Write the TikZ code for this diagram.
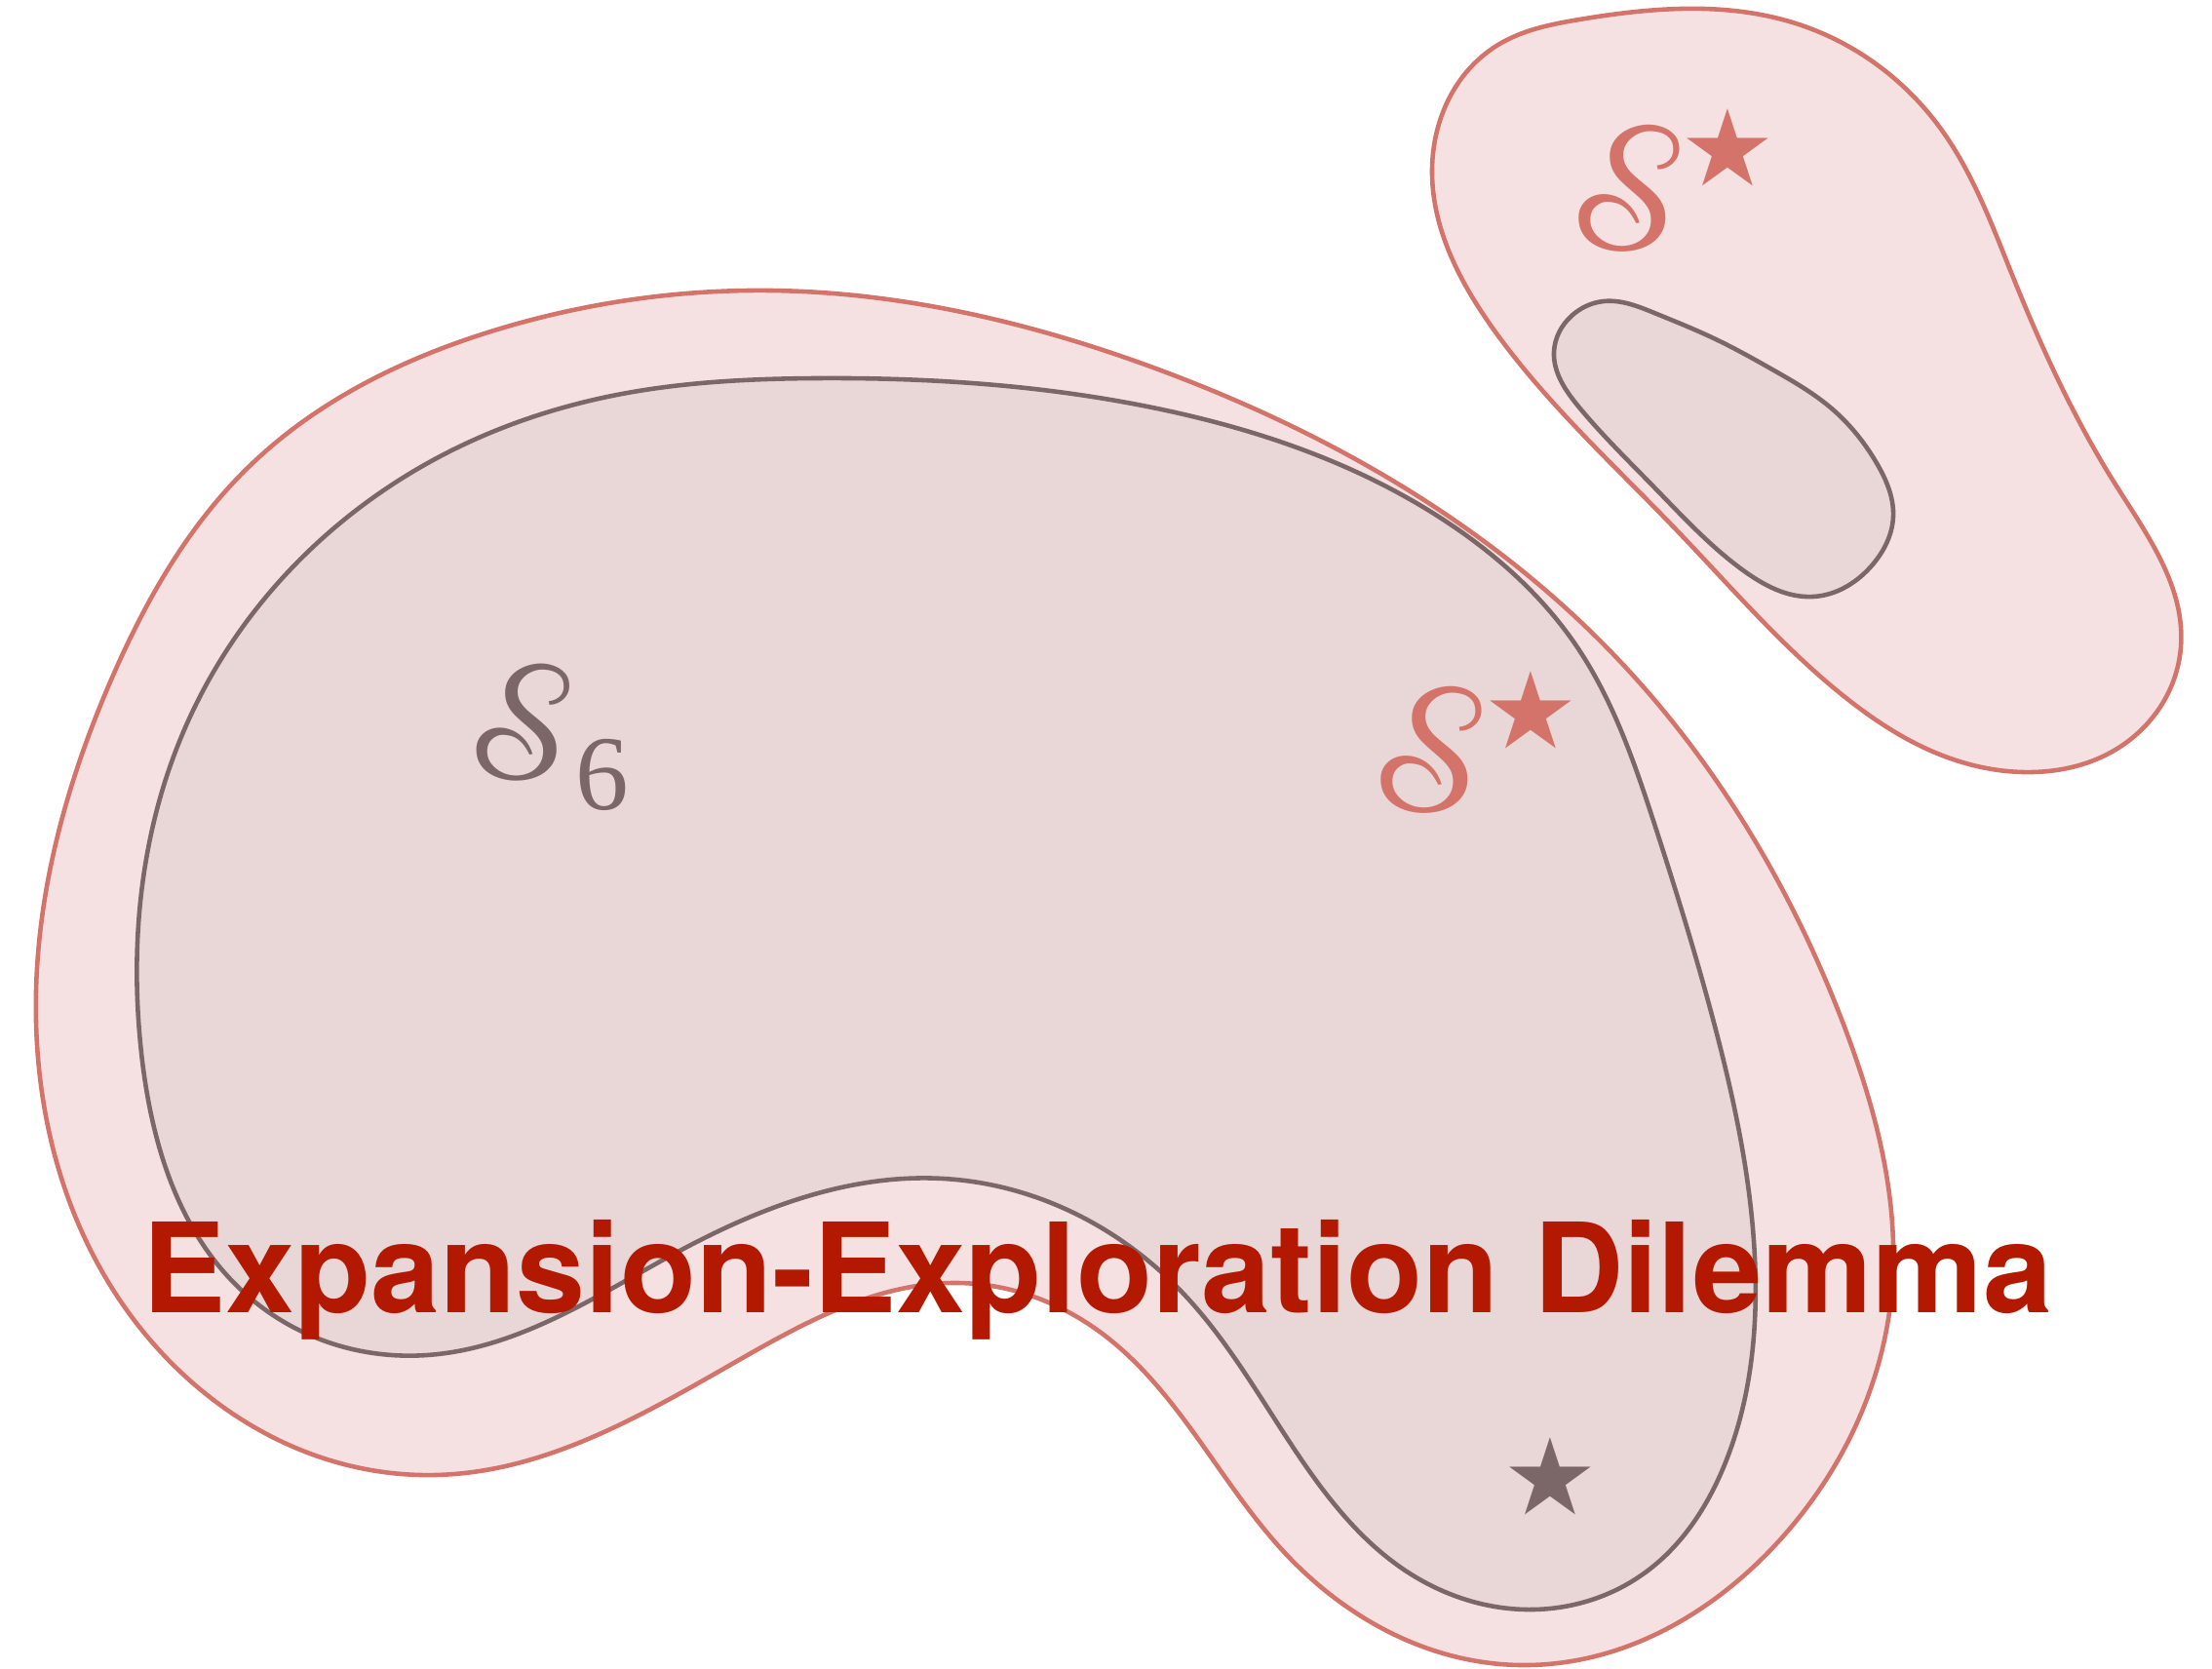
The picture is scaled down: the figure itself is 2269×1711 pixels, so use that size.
\documentclass[tikz,border=0pt]{standalone}
\usepackage{mathrsfs}
\usepackage{fontspec}
\usetikzlibrary{hobby}
\newfontfamily\titlefont{TeX Gyre Heros}
\newfontfamily\symfont{DejaVu Sans}
\newfontfamily\digitfont{Liberation Serif}
\IfFontExistsTF{XITS Math}
  {\newfontfamily\scrfont{XITS Math}\newcommand\scrS{{\scrfont\symbol{"1D4AE}}}}
  {\IfFontExistsTF{STIX Two Math}
    {\newfontfamily\scrfont[StylisticSet=1]{STIX Two Math}\newcommand\scrS{{\scrfont\symbol{"1D4AE}}}}
    {\newcommand\scrS{$\mathscr{S}$}}}
\definecolor{outfill}{HTML}{F5E1E1}
\definecolor{infill}{HTML}{E9D6D6}
\definecolor{outline}{HTML}{D4736A}
\definecolor{inline}{HTML}{7B6767}
\definecolor{titlered}{HTML}{B31800}
\begin{document}
\begin{tikzpicture}[x=0.01cm,y=-0.01cm,
  outerset/.style={fill=outfill,draw=outline,line width=1.3pt},
  innerset/.style={fill=infill,draw=inline,line width=1.3pt},
  scrlabel/.style={inner sep=0pt,font=\fontsize{52}{58}\selectfont},
  scrsmall/.style={inner sep=0pt,font=\fontsize{48}{54}\selectfont},
  starlabel/.style={inner sep=0pt,font=\symfont\fontsize{31}{34}\selectfont},
  digitlabel/.style={inner sep=0pt,font=\digitfont\fontsize{31}{36}\selectfont},
  title/.style={text=titlered,font=\titlefont\bfseries\fontsize{36.3}{40}\selectfont,inner sep=0pt}]
\useasboundingbox (0,0) rectangle (2269,1711);
% big outer
\path[outerset] plot[closed hobby] coordinates {
 (791,298) (1191,380) (1638,654) (1893,1056) (1940,1330) (1829,1576)
 (1561,1708) (1319,1594) (1128,1366) (984,1316) (765,1391) (446,1513)
 (128,1341) (38,993) (115,695) (255,479) (510,338)};
% big inner
\path[innerset] plot[closed hobby] coordinates {
 (835,388) (1182,418) (1485,536) (1618,664) (1697,845) (1757,1045)
 (1800,1290) (1770,1500) (1689,1612) (1572,1651) (1440,1610) (1330,1490)
 (1213,1326) (968,1209) (701,1281) (438,1390) (255,1330) (145,1080)
 (191,744) (446,471) (638,404)};
% top-right outer
\path[outerset] plot[closed hobby] coordinates {
 (1620,20) (1842,24) (1990,131) (2064,282) (2170,497) (2237,664) (2170,769)
 (2085,792) (1990,774) (1895,717) (1720,544) (1530,335) (1469,173) (1535,47)};
% top-right inner
\path[innerset] plot[closed hobby] coordinates {
 (1645,309) (1697,321) (1760,348) (1818,379) (1880,420) (1925,475) (1942,530)
 (1921,579) (1860,612) (1788,585) (1697,500) (1620,418) (1594,361) (1612,324)};
% labels
\node[scrsmall,text=inline] (s6) at (535,741) {\scrS};
\node[digitlabel,text=inline] (s6sub) at (618,795) {6};
\node[scrlabel,text=outline] (smid) at (1466,769) {\scrS};
\node[starlabel,text=outline] (smidstar) at (1570,728) {★};
\node[scrlabel,text=outline] (stop) at (1669,193) {\scrS};
\node[starlabel,text=outline] (stopstar) at (1772,151) {★};
\node[starlabel,text=inline] (opt) at (1590,1514) {★};
\node[title,anchor=base] (ttl) at (1126,1346) {Expansion-Exploration Dilemma};
\end{tikzpicture}
\end{document}
